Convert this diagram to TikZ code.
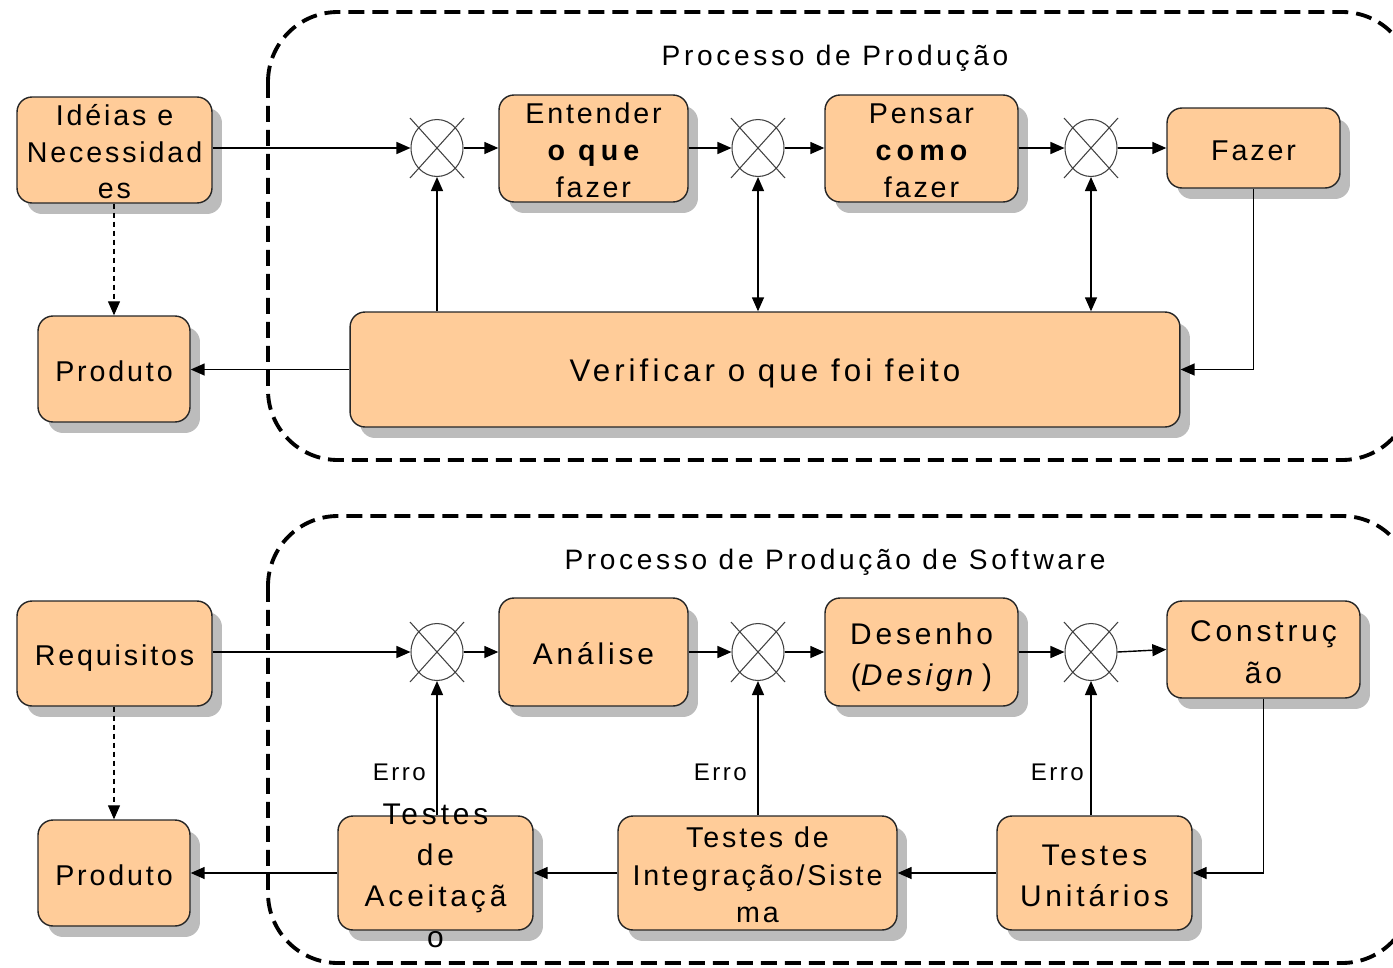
\documentclass[tikz,border=0pt]{standalone}
\usepackage{fontspec}
\setmainfont{Liberation Sans}
\newfontfamily\boxfont[LetterSpace=10]{Liberation Sans}
\newfontfamily\bigfont[LetterSpace=13]{Liberation Sans}
\newfontfamily\boldwide[LetterSpace=18]{Liberation Sans}
\usetikzlibrary{arrows.meta,shadows,shapes.geometric}

\definecolor{boxfill}{RGB}{255,204,153}
\definecolor{shade}{RGB}{188,188,188}

% stacked lines that do not stretch the box
\newcommand{\stk}[1]{\smash{\begin{tabular}{@{}c@{}}#1\end{tabular}}}

\tikzset{
  blk/.style={draw=black!85, line width=0.8pt, fill=boxfill, rounded corners=0.3cm,
    inner sep=0pt, text height=16pt, text depth=2pt,
    font=\boxfont\fontsize{16.3}{21}\selectfont,
    drop shadow={shadow xshift=0.2cm, shadow yshift=-0.22cm, fill=shade, opacity=1}},
  bigtxt/.style={font=\bigfont\fontsize{17}{23.5}\selectfont},
  sumj/.style={draw=black!75, ellipse, line width=0.6pt, minimum width=1.04cm,
    minimum height=1.14cm, inner sep=0pt},
  xline/.style={draw=black!75, line width=0.6pt},
  flow/.style={line width=0.8pt, -{Triangle[length=0.28cm,width=0.24cm]}},
  both/.style={line width=0.8pt, {Triangle[length=0.28cm,width=0.24cm]}-{Triangle[length=0.28cm,width=0.24cm]}},
  dflow/.style={line width=0.6pt, dash pattern=on 0.1cm off 0.08cm, -{Triangle[length=0.28cm,width=0.24cm]}},
  frame/.style={line width=2.2pt, dash pattern=on 0.32cm off 0.16cm, rounded corners=1.4cm},
  ttl/.style={font=\bigfont\fontsize{16}{20}\selectfont},
  erro/.style={font=\boxfont\fontsize{13.7}{16}\selectfont, anchor=east, inner sep=0pt},
}

\begin{document}
\begin{tikzpicture}[x=0.02cm, y=-0.02cm]
\useasboundingbox (0,0) rectangle (1393,967);

% dashed frames
\draw[frame] (268,12) rectangle (1412,460);
\draw[frame] (268,516) rectangle (1412,963);
\node[ttl] (tit1) at (835,58) {Processo de Produção};
\node[ttl] (tit2) at (835,562) {Processo de Produção de Software};

% upper process
\node[blk, minimum width=3.9cm, minimum height=2.12cm] (ideias) at (114.5,150) {\stk{Idéias e\\Necessidad\\es}};
\node[blk, minimum width=3.04cm, minimum height=2.12cm] (prod1) at (114,369) {Produto};
\node[blk, minimum width=3.78cm, minimum height=2.14cm] (entender) at (593.5,148.5) {\stk{Entender\\{\boldwide\bfseries o que}\\fazer}};
\node[blk, minimum width=3.86cm, minimum height=2.14cm] (pensar) at (921.5,148.5) {\stk{Pensar\\{\boldwide\bfseries como}\\fazer}};
\node[blk, minimum width=3.46cm, minimum height=1.6cm] (fazer) at (1253.5,148) {Fazer};
\node[blk, font=\bigfont\fontsize{17.8}{23.5}\selectfont, minimum width=16.6cm, minimum height=2.3cm] (verif) at (765,369.5) {Verificar o que foi feito};
\node[sumj] (j1) at (437,148) {};
\node[sumj] (j2) at (758,148) {};
\node[sumj] (j3) at (1091,148) {};

% lower process
\node[blk, minimum width=3.9cm, minimum height=2.1cm] (req) at (114.5,653.5) {Requisitos};
\node[blk, minimum width=3.04cm, minimum height=2.12cm] (prod2) at (114,873) {Produto};
\node[blk, bigtxt, minimum width=3.78cm, minimum height=2.16cm] (analise) at (593.5,652) {Análise};
\node[blk, bigtxt, minimum width=3.86cm, minimum height=2.16cm] (desenho) at (921.5,652) {\stk{Desenho\\(\textit{Design}\,)}};
\node[blk, bigtxt, minimum width=3.86cm, minimum height=1.94cm] (constr) at (1263.5,649.5) {\stk{Construç\\ão}};
\node[blk, bigtxt, minimum width=3.9cm, minimum height=2.28cm] (tacc) at (435.5,873) {\stk{Testes\\de\\Aceitaçã\\o}};
\node[blk, font=\boxfont\fontsize{16.3}{21.3}\selectfont, minimum width=5.58cm, minimum height=2.28cm] (tint) at (757.5,873) {\stk{Testes de\\Integração/Siste\\ma}};
\node[blk, bigtxt, minimum width=3.9cm, minimum height=2.28cm] (tuni) at (1094.5,873) {\stk{Testes\\Unitários}};
\node[sumj] (j4) at (437,652) {};
\node[sumj] (j5) at (758,652) {};
\node[sumj] (j6) at (1091,652) {};

% crosses in the junctions
\foreach \j in {j1,j2,j3,j4,j5,j6} {
  \draw[xline] ([shift={(-27,-30)}]\j.center) -- ([shift={(27,30)}]\j.center);
  \draw[xline] ([shift={(-27,30)}]\j.center) -- ([shift={(27,-30)}]\j.center);
}

% upper connectors
\draw[flow] (j1.west -| ideias.east) -- (j1.west);
\draw[flow] (j1.east) -- (j1.east -| entender.west);
\draw[flow] (entender.east |- j2.west) -- (j2.west);
\draw[flow] (j2.east) -- (j2.east -| pensar.west);
\draw[flow] (pensar.east |- j3.west) -- (j3.west);
\draw[flow] (j3.east) -- (j3.east -| fazer.west);
\draw[flow] (j1.south |- verif.north) -- (j1.south);
\draw[both] (j2.south) -- (j2.south |- verif.north);
\draw[both] (j3.south) -- (j3.south |- verif.north);
\draw[flow] (fazer.south) |- (verif.east);
\draw[flow] (verif.west) -- (prod1.east |- verif.west);
\draw[dflow] (ideias.south -| prod1.north) -- (prod1.north);

% lower connectors
\draw[flow] (j4.west -| req.east) -- (j4.west);
\draw[flow] (j4.east) -- (j4.east -| analise.west);
\draw[flow] (analise.east |- j5.west) -- (j5.west);
\draw[flow] (j5.east) -- (j5.east -| desenho.west);
\draw[flow] (desenho.east |- j6.west) -- (j6.west);
\draw[flow] (j6.east) -- (constr.west);
\draw[flow] (constr.south) |- (tuni.east);
\draw[flow] (tuni.west) -- (tint.east);
\draw[flow] (tint.west) -- (tacc.east);
\draw[flow] (tacc.west) -- (prod2.east |- tacc.west);
\draw[flow] (j4.south |- tacc.north) -- (j4.south);
\draw[flow] (j5.south |- tint.north) -- (j5.south);
\draw[flow] (j6.south |- tuni.north) -- (j6.south);
\draw[dflow] (req.south -| prod2.north) -- (prod2.north);
\node[erro] (err1) at (426,772) {Erro};
\node[erro] (err2) at (747,772) {Erro};
\node[erro] (err3) at (1084,772) {Erro};
\end{tikzpicture}
\end{document}
